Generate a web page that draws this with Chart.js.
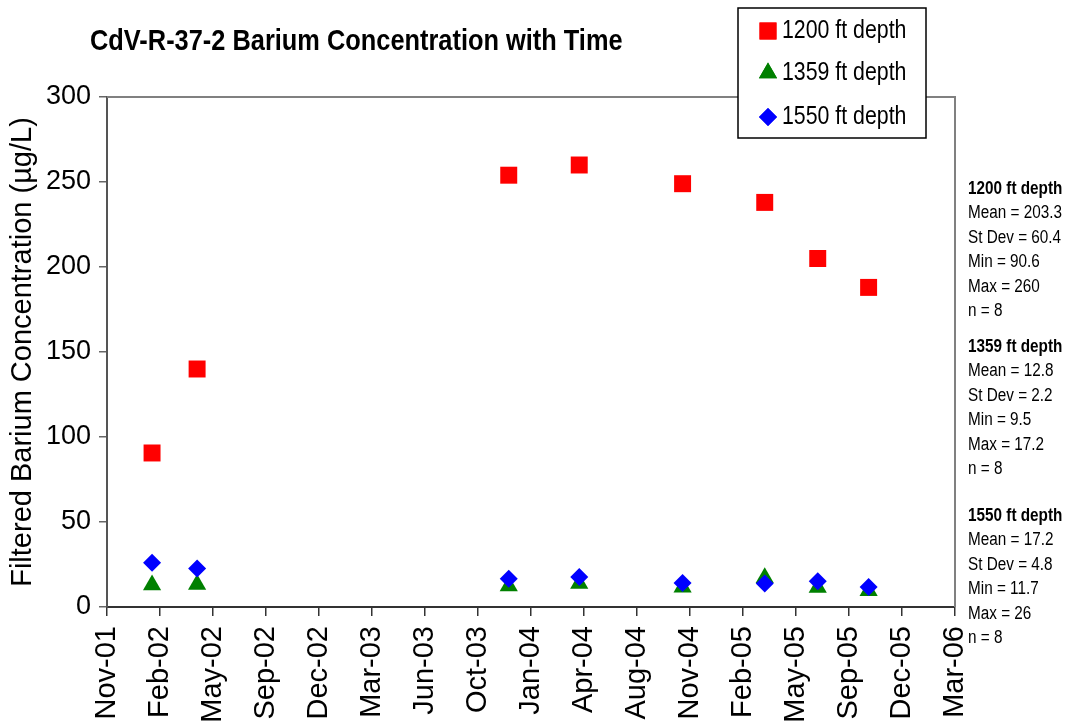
<!DOCTYPE html>
<html>
<head>
<meta charset="utf-8">
<script src="https://cdn.jsdelivr.net/npm/chart.js@4.4.0/dist/chart.umd.min.js"></script>
<style>
  html, body { margin: 0; padding: 0; background: #fff; }
</style>
</head>
<body>
<canvas id="chart" width="1065" height="724"></canvas>
<script>
// ===== DATA =====
// sample dates as Excel day serials (37200 = Nov-01)
const sampleDays = [37285, 37370, 37958, 38091, 38286, 38441, 38541, 38637];
const depth1200 = [90.6, 140, 254, 260, 249, 238, 205, 188];
const depth1359 = [13, 13.2, 12.3, 13.8, 11.6, 17.2, 11.4, 9.5];
const depth1550 = [26, 22.6, 16.6, 17.6, 14.1, 13.8, 15.2, 11.7];
const seriesLabels = ["1200 ft depth", "1359 ft depth", "1550 ft depth"];

const xTickLabels = ["Nov-01", "Feb-02", "May-02", "Sep-02", "Dec-02", "Mar-03", "Jun-03", "Oct-03",
  "Jan-04", "Apr-04", "Aug-04", "Nov-04", "Feb-05", "May-05", "Sep-05", "Dec-05", "Mar-06"];
const xStart = 37200;
const xStep = 100;
const yMax = 300;
const yStep = 50;

const chartTitle = "CdV-R-37-2 Barium Concentration with Time";
const yTitle = "Filtered Barium Concentration (µg/L)";

const stats1200 = ["1200 ft depth", "Mean = 203.3", "St Dev = 60.4", "Min = 90.6", "Max = 260", "n = 8"];
const stats1359 = ["1359 ft depth", "Mean = 12.8", "St Dev = 2.2", "Min = 9.5", "Max = 17.2", "n = 8"];
const stats1550 = ["1550 ft depth", "Mean = 17.2", "St Dev = 4.8", "Min = 11.7", "Max = 26", "n = 8"];

// ===== HELPERS =====
const FONT = '"Liberation Sans", Arial, sans-serif';

function points(values){
    return sampleDays.map((d, i) => ({ x: d, y: values[i] }));
}

// condensed text, like the squeezed spreadsheet fonts
function squeezed(ctx, text, x, y, sx){
    ctx.save();
    ctx.translate(x, y);
    ctx.scale(sx, 1);
    ctx.fillText(text, 0, 0);
    ctx.restore();
}

// ===== EXTRA DRAWING (frame, title, legend box, stats) =====
const frame = {
    id: "frame",
    beforeDatasetsDraw(chart){
        const ctx = chart.ctx, a = chart.chartArea;
        ctx.save();
        ctx.strokeStyle = "#808080";
        ctx.lineWidth = 2;
        ctx.beginPath();
        ctx.moveTo(a.left, a.top);
        ctx.lineTo(a.right, a.top);
        ctx.lineTo(a.right, a.bottom);
        ctx.stroke();
        ctx.restore();
    }
};

const overlay = {
    id: "overlay",
    afterDraw(chart){
        const ctx = chart.ctx;
        ctx.save();
        ctx.fillStyle = "#000";
        ctx.textAlign = "left";
        ctx.textBaseline = "middle";

        // title
        ctx.font = "bold 30px " + FONT;
        squeezed(ctx, chartTitle, 90, 42, 0.846);

        // legend box
        ctx.fillStyle = "#fff";
        ctx.fillRect(738, 8, 188, 130);
        ctx.strokeStyle = "#000";
        ctx.lineWidth = 1.5;
        ctx.strokeRect(738, 8, 188, 130);

        const rowY = [31, 73, 117];
        ctx.font = "26px " + FONT;
        chart.data.datasets.forEach((ds, i) => {
            ctx.fillStyle = ds.backgroundColor;
            Chart.helpers.drawPoint(ctx, {
                pointStyle: ds.pointStyle,
                radius: ds.pointRadius,
                rotation: 0,
                borderWidth: 0
            }, 768, rowY[i]);
            ctx.fill();
            ctx.fillStyle = "#000";
            squeezed(ctx, ds.label, 782, rowY[i], 0.82);
        });

        // stats text
        const blocks = [[stats1200, 189], [stats1359, 347], [stats1550, 516]];
        blocks.forEach(([lines, y0]) => {
            lines.forEach((t, j) => {
                ctx.font = (j === 0 ? "bold " : "") + "18px " + FONT;
                squeezed(ctx, t, 968, y0 + j * 24.4, 0.85);
            });
        });
        ctx.restore();
    }
};

// ===== CHART =====
new Chart(document.getElementById("chart"), {
    type: "scatter",
    data: {
        datasets: [
            { label: seriesLabels[0], data: points(depth1200), pointStyle: "rect", order: 0,
              pointRadius: 12, backgroundColor: "#FF0000", borderColor: "#FF0000", borderWidth: 0 },
            { label: seriesLabels[1], data: points(depth1359), pointStyle: "triangle", order: 1,
              pointRadius: 10.5, backgroundColor: "#008000", borderColor: "#008000", borderWidth: 0 },
            { label: seriesLabels[2], data: points(depth1550), pointStyle: "rectRot", order: 0,
              pointRadius: 9, backgroundColor: "#0000FF", borderColor: "#0000FF", borderWidth: 0 }
        ]
    },
    options: {
        responsive: false,
        animation: false,
        devicePixelRatio: 1,
        layout: { padding: { left: 0, top: 97, right: 110, bottom: 0 } },
        plugins: {
            legend: { display: false },
            tooltip: { enabled: false },
            title: { display: false }
        },
        scales: {
            x: {
                type: "linear",
                min: xStart,
                max: xStart + xStep * (xTickLabels.length - 1),
                afterBuildTicks: s => {
                    s.ticks = xTickLabels.map((l, i) => ({ value: xStart + i * xStep }));
                },
                afterFit: s => { s.height = 117; },
                ticks: {
                    autoSkip: false,
                    minRotation: 90,
                    maxRotation: 90,
                    padding: 10,
                    color: "#000",
                    font: { family: FONT, size: 29 },
                    callback: (v, i) => xTickLabels[i]
                },
                grid: { drawOnChartArea: false, tickLength: 9, color: "#333", lineWidth: 1.5 },
                border: { color: "#333", width: 2 }
            },
            y: {
                min: 0,
                max: yMax,
                afterFit: s => { s.width = 107; },
                ticks: {
                    stepSize: yStep,
                    padding: 8,
                    color: "#000",
                    font: { family: FONT, size: 27 }
                },
                grid: { drawOnChartArea: false, tickLength: 8, color: "#666", lineWidth: 1.5 },
                border: { color: "#555", width: 2 },
                title: {
                    display: true,
                    text: yTitle,
                    color: "#000",
                    font: { family: FONT, size: 29 },
                    padding: { top: 6, bottom: 0 }
                }
            }
        }
    },
    plugins: [frame, overlay]
});
</script>
</body>
</html>
